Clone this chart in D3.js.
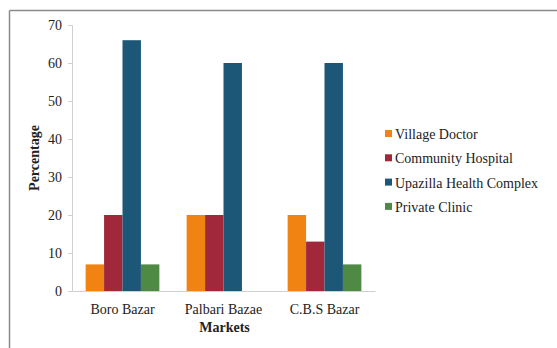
<!DOCTYPE html>
<html>
<head>
<meta charset="utf-8">
<script src="https://cdn.jsdelivr.net/npm/d3@7"></script>
<style>
  html, body { margin: 0; padding: 0; background: #fff; }
  svg { display: block; }
</style>
</head>
<body>
<svg id="chart" width="557" height="348" font-family="'Liberation Serif', 'Times New Roman', serif"></svg>
<script>
// Survey data: share of respondents using each health service, by market
const markets = ["Boro Bazar", "Palbari Bazae", "C.B.S Bazar"];
const services = ["Village Doctor", "Community Hospital", "Upazilla Health Complex", "Private Clinic"];
const villageDoctor = [7, 20, 20];
const communityHospital = [20, 20, 13];
const upazillaHealthComplex = [66, 60, 60];
const privateClinic = [7, 0, 7];
const yTicks = [0, 10, 20, 30, 40, 50, 60, 70];
const colors = ["#F08311", "#A0283A", "#1C5778", "#4F8A44"];

const FONT = "'Liberation Serif', 'Times New Roman', serif";
const TEXT = "#222";

const seriesValues = [villageDoctor, communityHospital, upazillaHealthComplex, privateClinic];
const rows = markets.map((m, i) => ({
  market: m,
  values: services.map((s, j) => ({ service: s, value: seriesValues[j][i] }))
}));

const svg = d3.select("#chart");

// Frame lines (top and left)
svg.append("line").attr("x1", 9.5).attr("x2", 557).attr("y1", 10.5).attr("y2", 10.5)
  .attr("stroke", "#8a8a8a").attr("stroke-width", 1.5);
svg.append("line").attr("x1", 9.5).attr("x2", 9.5).attr("y1", 10.5).attr("y2", 348)
  .attr("stroke", "#8a8a8a").attr("stroke-width", 1.5);

const plot = { left: 72, right: 375, top: 25, bottom: 291 };

const x0 = d3.scaleBand().domain(markets).range([plot.left, plot.right]).paddingInner(0.27).paddingOuter(0.135);
const x1 = d3.scaleBand().domain(services).range([0, x0.bandwidth()]).padding(0);
const y = d3.scaleLinear().domain([0, 70]).range([plot.bottom, plot.top]);

// Bars
const groups = svg.append("g").selectAll("g").data(rows).join("g")
  .attr("transform", d => `translate(${x0(d.market)},0)`);
groups.selectAll("rect").data(d => d.values).join("rect")
  .attr("x", d => x1(d.service))
  .attr("y", d => y(d.value))
  .attr("width", x1.bandwidth())
  .attr("height", d => y(0) - y(d.value))
  .attr("fill", (d, i) => colors[i]);

// Y axis
const yAxis = svg.append("g").attr("transform", `translate(${plot.left},0)`)
  .call(d3.axisLeft(y).tickValues(yTicks).tickSize(4).tickPadding(6))
  .attr("font-family", FONT).attr("font-size", 14);
yAxis.select(".domain").attr("stroke", "#d0d0d0");
yAxis.selectAll(".tick line").attr("stroke", "#d0d0d0");
yAxis.selectAll(".tick text").attr("fill", TEXT);

// X axis
const xAxis = svg.append("g").attr("transform", `translate(0,${plot.bottom})`)
  .call(d3.axisBottom(x0).tickSize(0).tickPadding(13).tickSizeOuter(0))
  .attr("font-family", FONT).attr("font-size", 14);
xAxis.select(".domain").attr("stroke", "#d0d0d0");
xAxis.selectAll(".tick text").attr("fill", TEXT);

// Axis titles
svg.append("text").attr("x", (plot.left + plot.right) / 2 + 1).attr("y", 332)
  .attr("text-anchor", "middle").attr("font-size", 14).attr("font-weight", "bold")
  .attr("fill", TEXT).text("Markets");
svg.append("text").attr("transform", "translate(39,158) rotate(-90)")
  .attr("text-anchor", "middle").attr("font-size", 14).attr("font-weight", "bold")
  .attr("fill", TEXT).text("Percentage");

// Legend
const legend = svg.append("g").attr("transform", "translate(385,134)");
const items = legend.selectAll("g").data(services).join("g")
  .attr("transform", (d, i) => `translate(0,${i * 24.3})`);
items.append("rect").attr("x", 0).attr("y", -4).attr("width", 7).attr("height", 7)
  .attr("fill", (d, i) => colors[i]);
items.append("text").attr("x", 10).attr("y", 0).attr("dy", "0.35em")
  .attr("font-size", 14).attr("fill", TEXT).text(d => d);
</script>
</body>
</html>
